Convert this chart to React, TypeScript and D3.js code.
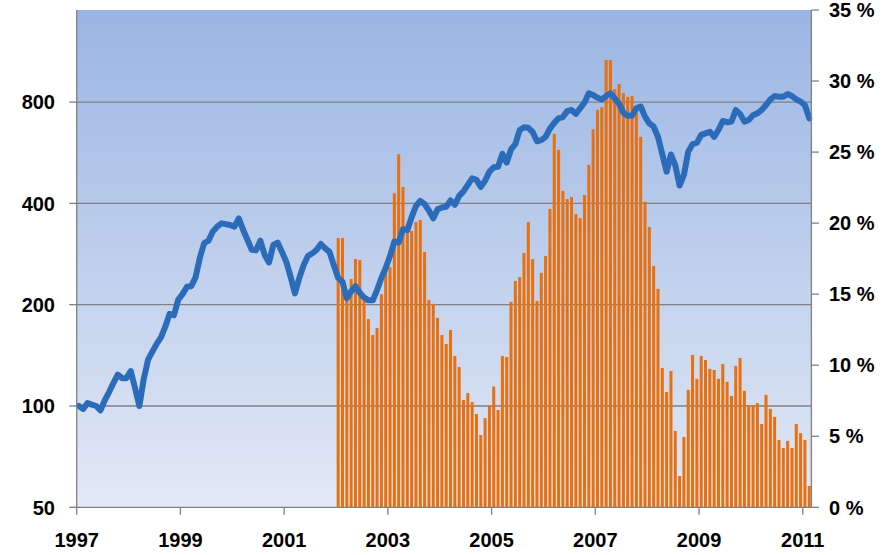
import React from "react";
import * as d3 from "d3";

// Monthly categories: Jan 1997 .. Feb 2011
const firstYear = 1997;
const monthCount = 170;
const months: string[] = d3.range(monthCount).map(
  (i) => `${firstYear + Math.floor(i / 12)}-${String((i % 12) + 1).padStart(2, "0")}`
);

// Index line (left log axis)
const indexValues = [
  100, 98, 102, 101, 100, 97, 104, 110, 117, 124, 121, 121, 127, 113, 100, 120, 137, 145, 153, 160,
  172, 188, 186, 207, 215, 226, 227, 241, 276, 305, 310, 330, 341, 349, 347, 345, 341, 361, 334, 312,
  291, 290, 310, 281, 267, 301, 306, 287, 268, 242, 216, 240, 262, 279, 284, 291, 303, 294, 287, 262,
  240, 234, 209, 219, 227, 217, 210, 206, 206, 221, 240, 257, 279, 308, 306, 335, 333, 364, 393, 407,
  398, 381, 361, 384, 389, 391, 408, 396, 421, 434, 454, 475, 470, 448, 467, 497, 512, 514, 561, 529,
  579, 600, 661, 673, 671, 652, 612, 617, 631, 667, 694, 716, 722, 752, 758, 738, 767, 798, 850, 840,
  824, 815, 834, 850, 821, 790, 744, 728, 729, 767, 776, 724, 692, 676, 631, 560, 497, 559, 520, 452,
  486, 570, 600, 606, 639, 646, 653, 631, 661, 703, 697, 700, 758, 738, 700, 708, 731, 741, 758, 784,
  815, 834, 830, 830, 846, 834, 815, 802, 784, 716,
];

// Percentage bars (right axis), from Jan 2002
const barStartMonth = "2002-01";
const barValues = [
  18.95, 18.95, 14.6, 16.07, 17.47, 17.4, 14.8, 13.26, 12.13, 12.62, 15.0, 16.6, 16.9, 22.1, 24.85, 22.54,
  19.3, 19.44, 20.08, 20.22, 17.97, 14.6, 14.32, 13.33, 12.13, 11.5, 12.48, 10.65, 9.87, 7.55, 8.04, 7.41,
  6.57, 5.09, 6.28, 7.2, 8.5, 6.85, 10.65, 10.58, 14.46, 15.93, 16.2, 17.9, 20.08, 17.47, 14.52, 16.5,
  17.68, 21.0, 26.28, 25.15, 22.27, 21.7, 21.84, 20.65, 20.36, 21.98, 24.1, 26.6, 27.97, 28.16, 31.48, 31.48,
  29.43, 29.8, 29.16, 28.88, 28.95, 27.8, 26.07, 21.5, 19.73, 16.98, 15.37, 9.8, 8.11, 9.6, 5.37, 2.2,
  4.95, 8.26, 10.72, 9.04, 10.65, 10.37, 9.74, 9.67, 9.04, 10.08, 8.83, 7.84, 9.95, 10.51, 8.2, 7.2,
  7.2, 7.34, 5.86, 7.91, 6.92, 6.36, 4.74, 4.17, 4.67, 4.17, 5.86, 5.22, 4.74, 1.5,
];

const yearLabels = ["1997", "1999", "2001", "2003", "2005", "2007", "2009", "2011"];
const leftTicks = [50, 100, 200, 400, 800];
const gridTicks = [100, 200, 400, 800];
const rightTicks = [0, 5, 10, 15, 20, 25, 30, 35];

const W = 882;
const H = 555;
const L = 76.7;
const R = 811.4;
const T = 10;
const B = 507.3;

const FONT = "'Liberation Sans', Arial, sans-serif";
const AXIS = "#808080";

export default function App() {
  const x = d3
    .scaleBand<string>()
    .domain(months)
    .range([L, R])
    .paddingInner(0.3)
    .paddingOuter(0.15);
  const bw = x.bandwidth();
  const step = x.step();
  const slotLeft = (m: string) => (x(m) as number) - step * 0.15;

  const yL = d3.scaleLog().domain([50, 50 * Math.pow(2, 4.909)]).range([B, T]);
  const yR = d3.scaleLinear().domain([0, 35]).range([B, T]);

  const barStartIdx = months.indexOf(barStartMonth);
  const bars = barValues.map((v, k) => ({ m: months[barStartIdx + k], v }));

  const line = d3
    .line<number>()
    .x((_, i) => (x(months[i]) as number) + bw / 2)
    .y((d) => yL(d));

  return (
    <svg
      width={W}
      height={H}
      style={{ position: "absolute", left: 0, top: 0, background: "#ffffff" }}
    >
      <defs>
        <linearGradient id="bg" x1="0" y1="0" x2="0" y2="1">
          <stop offset="0%" stopColor="#9ab5e3" />
          <stop offset="100%" stopColor="#e3e9f6" />
        </linearGradient>
      </defs>
      <rect x={L} y={T} width={R - L} height={B - T} fill="url(#bg)" />

      {gridTicks.map((t) => (
        <line key={t} x1={L} x2={R} y1={yL(t)} y2={yL(t)} stroke={AXIS} strokeWidth={1.3} />
      ))}

      {bars.map((b) => (
        <rect
          key={b.m}
          x={x(b.m)}
          y={yR(b.v)}
          width={bw}
          height={B - yR(b.v)}
          fill="#e8700f"
        />
      ))}

      <path
        d={line(indexValues) || ""}
        fill="none"
        stroke="#2b6cba"
        strokeWidth={6}
        strokeLinejoin="round"
        strokeLinecap="round"
      />

      {/* axes */}
      <line x1={L} x2={L} y1={T} y2={B} stroke={AXIS} strokeWidth={1.3} />
      <line x1={R} x2={R} y1={T} y2={B} stroke={AXIS} strokeWidth={1.3} />
      <line x1={L} x2={R} y1={B} y2={B} stroke={AXIS} strokeWidth={1.3} />

      {leftTicks.map((t) => (
        <g key={t}>
          <line x1={L - 7.5} x2={L} y1={yL(t)} y2={yL(t)} stroke={AXIS} strokeWidth={1.3} />
          <text
            x={55}
            y={yL(t)}
            dy="0.36em"
            textAnchor="end"
            fontFamily={FONT}
            fontWeight="bold"
            fontSize={20}
            fill="#000"
          >
            {t}
          </text>
        </g>
      ))}

      {rightTicks.map((t) => (
        <g key={t}>
          <line x1={R} x2={R + 7.5} y1={yR(t)} y2={yR(t)} stroke={AXIS} strokeWidth={1.3} />
          <text
            x={829}
            y={yR(t)}
            dy="0.36em"
            textAnchor="start"
            fontFamily={FONT}
            fontWeight="bold"
            fontSize={20}
            fill="#000"
          >
            {`${t} %`}
          </text>
        </g>
      ))}

      {yearLabels.map((yl) => {
        const px = slotLeft(`${yl}-01`);
        return (
          <g key={yl}>
            <line x1={px} x2={px} y1={B} y2={B + 7.5} stroke={AXIS} strokeWidth={1.3} />
            <text
              x={px}
              y={546.5}
              textAnchor="middle"
              fontFamily={FONT}
              fontWeight="bold"
              fontSize={20}
              fill="#000"
            >
              {yl}
            </text>
          </g>
        );
      })}
    </svg>
  );
}
